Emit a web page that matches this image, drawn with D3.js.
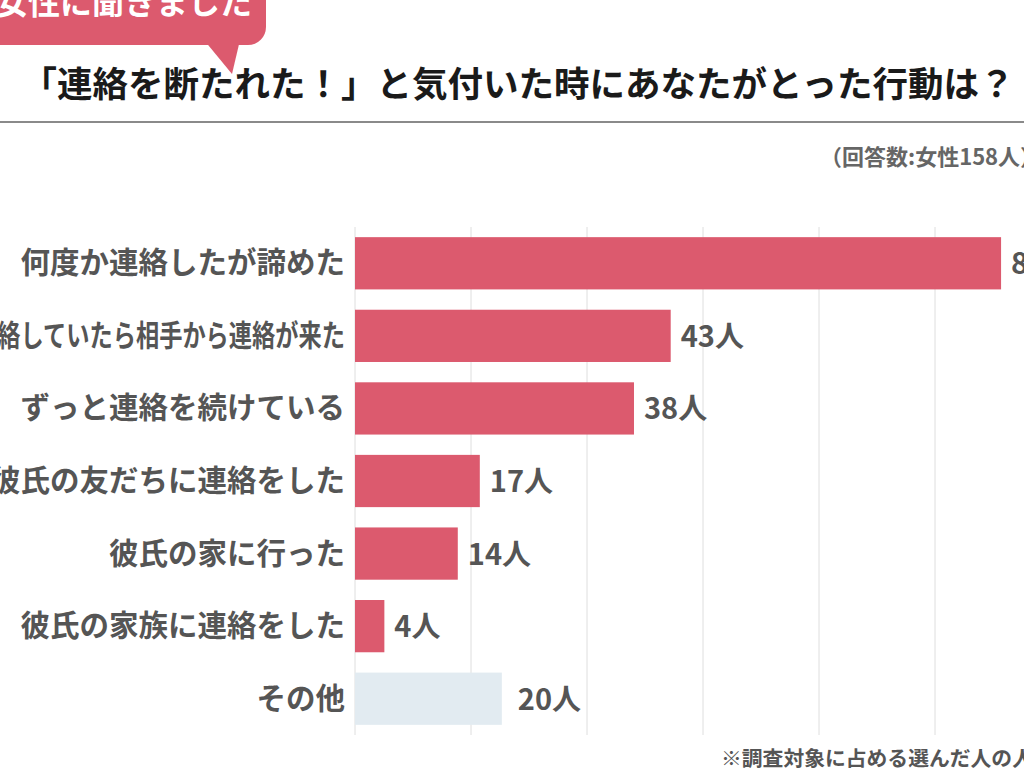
<!doctype html>
<html lang="ja">
<head>
    <meta charset="UTF-8">
    <script src="https://d3js.org/d3.v7.min.js"></script>
    <title>連絡を断たれた時の行動</title>
    <style>
        body { margin: 0; background: #fff; }
        svg { display: block; font-family: "Noto Sans CJK JP", "Noto Sans", sans-serif; font-weight: bold; }
    </style>
</head>
<body>
<div class="container"></div>
<script>
    // データ
    let categories = ["何度か連絡したが諦めた", "連絡していたら相手から連絡が来た", "ずっと連絡を続けている",
        "彼氏の友だちに連絡をした", "彼氏の家に行った", "彼氏の家族に連絡をした", "その他"];
    let counts = [88, 43, 38, 17, 14, 4, 20];
    let total = 158;
    let gridTicks = [0, 0.1, 0.2, 0.3, 0.4, 0.5, 0.6];
    let otherCategory = "その他";

    let W = 1024, H = 776;
    let pink = "#dc5a6e", pale = "#e2ebf1", labelColor = "#555";
    let maxLabelWidth = 371; // 長いラベルは横に詰める

    let svg = d3.select(".container").append("svg")
        .attr("width", W)
        .attr("height", H);

    // 吹き出し
    svg.append("rect")
        .attr("x", -40).attr("y", -40)
        .attr("width", 306).attr("height", 85)
        .attr("rx", 18).attr("ry", 18)
        .attr("fill", pink);
    svg.append("path")
        .attr("d", "M204,40 L232,74 L240,40 Z")
        .attr("fill", pink);
    svg.append("text")
        .attr("x", 252).attr("y", 14)
        .attr("text-anchor", "end")
        .attr("font-size", 32)
        .attr("fill", "#fff")
        .text("女性に聞きました");

    // タイトル
    svg.append("text")
        .attr("x", 21.5).attr("y", 97)
        .attr("font-size", 35.5)
        .attr("fill", "#1a1a1a")
        .text("「連絡を断たれた！」と気付いた時にあなたがとった行動は？");
    svg.append("line")
        .attr("x1", 0).attr("x2", W)
        .attr("y1", 122).attr("y2", 122)
        .attr("stroke", "#8a8a8a")
        .attr("stroke-width", 2);

    svg.append("text")
        .attr("x", 820).attr("y", 165)
        .attr("font-size", 22)
        .attr("fill", "#666")
        .text("（回答数:女性" + total + "人）");

    // スケール
    let x = d3.scaleLinear().domain([0, 0.6]).range([355, 1051]);
    let y = d3.scaleBand().domain(categories).range([227, 735])
        .paddingInner(0.28).paddingOuter(0.14);

    // グリッド線
    svg.append("g").selectAll("line")
        .data(gridTicks)
        .join("line")
        .attr("x1", d => x(d)).attr("x2", d => x(d))
        .attr("y1", 227).attr("y2", 735)
        .attr("stroke", "#dedede")
        .attr("stroke-width", 1);

    let rows = categories.map((c, i) => ({ cat: c, n: counts[i] }));

    // 棒
    svg.append("g").selectAll("rect")
        .data(rows)
        .join("rect")
        .attr("x", x(0))
        .attr("y", d => y(d.cat))
        .attr("width", d => x(d.n / total) - x(0))
        .attr("height", y.bandwidth())
        .attr("fill", d => d.cat === otherCategory ? pale : pink);

    // 項目ラベル
    svg.append("g").selectAll("text")
        .data(rows)
        .join("text")
        .attr("x", x(0) - 10)
        .attr("y", d => y(d.cat) + y.bandwidth() / 2 + 10)
        .attr("text-anchor", "end")
        .attr("font-size", 29.5)
        .attr("fill", labelColor)
        .text(d => d.cat)
        .each(function () {
            if (this.getComputedTextLength() > maxLabelWidth) {
                d3.select(this)
                    .attr("textLength", maxLabelWidth)
                    .attr("lengthAdjust", "spacingAndGlyphs");
            }
        });

    // 値ラベル
    svg.append("g").selectAll("text")
        .data(rows)
        .join("text")
        .attr("x", d => x(d.n / total) + (d.cat === otherCategory ? 16 : 10))
        .attr("y", d => y(d.cat) + y.bandwidth() / 2 + 11)
        .attr("font-size", 29)
        .attr("fill", labelColor)
        .text(d => d.n + "人");

    // 注記
    svg.append("text")
        .attr("x", 721).attr("y", 766)
        .attr("font-size", 20.8)
        .attr("fill", "#555")
        .text("※調査対象に占める選んだ人の人数");
</script>
</body>
</html>
